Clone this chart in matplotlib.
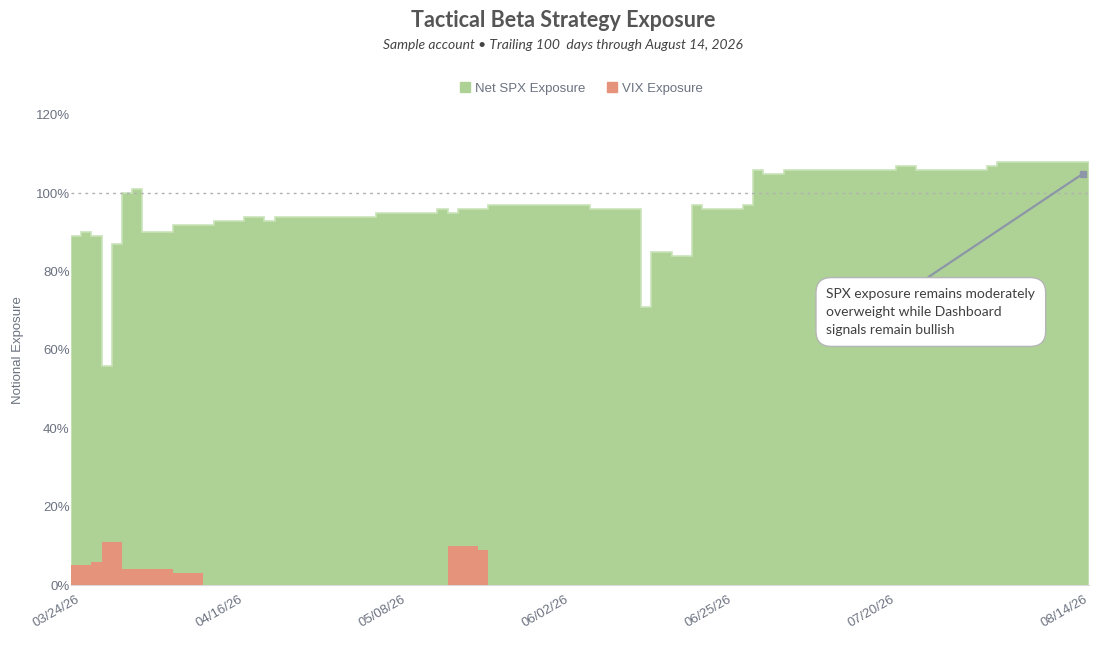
import numpy as np
import pandas as pd
import matplotlib.pyplot as plt
from matplotlib.lines import Line2D

# trading days 03/24/26 - 08/14/26 (NYSE holidays skipped)
holidays = ['2026-04-03', '2026-05-25', '2026-06-19', '2026-07-03']
dates = pd.bdate_range('2026-03-24', '2026-08-14', freq='C', holidays=holidays)

# Net SPX exposure (%), one value per trading day
spx = [89, 90, 89, 56, 87, 100, 101, 90, 90, 90,
       92, 92, 92, 92, 93, 93, 93, 94, 94, 93,
       94, 94, 94, 94, 94, 94, 94, 94, 94, 94,
       95, 95, 95, 95, 95, 95, 96, 95, 96, 96,
       96, 97, 97, 97, 97, 97, 97, 97, 97, 97,
       97, 96, 96, 96, 96, 96, 71, 85, 85, 84,
       84, 97, 96, 96, 96, 96, 97, 106, 105, 105,
       106, 106, 106, 106, 106, 106, 106, 106, 106, 106,
       106, 107, 107, 106, 106, 106, 106, 106, 106, 106,
       107, 108, 108, 108, 108, 108, 108, 108, 108, 108]

# VIX exposure (%)
vix = [5, 5, 6, 11, 11, 4, 4, 4, 4, 4,
       3, 3, 3, 0, 0, 0, 0, 0, 0, 0,
       0, 0, 0, 0, 0, 0, 0, 0, 0, 0,
       0, 0, 0, 0, 0, 0, 0, 10, 10, 10,
       9] + [0] * 59

tick_idx = [0, 16, 32, 48, 64, 80, 99]
tick_labels = [dates[i].strftime('%m/%d/%y') for i in tick_idx]

green = '#aed296'
red = '#e5937a'
gray = '#6b7280'

fig = plt.figure(figsize=(11.09, 6.47), dpi=100)
ax = fig.add_axes([0.064, 0.0958, 0.918, 0.7265])

edges = np.arange(len(spx) + 1)
ax.stairs(spx, edges, fill=True, color=green, zorder=1)
ax.stairs(spx, edges, fill=False, color='#c9e3b8', lw=1.2, zorder=2)
ax.stairs(vix, edges, fill=True, color=red, zorder=3)

ax.axhline(100, color='#b0b0b0', lw=1, ls=(0, (2, 3)), zorder=4)

ax.set_xlim(0, len(spx))
ax.set_ylim(0, 120)
ax.set_yticks(range(0, 121, 20))
ax.set_yticklabels([f'{v}%' for v in range(0, 121, 20)])
ax.set_xticks([i + 0.5 for i in tick_idx])
ax.set_xticklabels(tick_labels, rotation=30, ha='right', rotation_mode='anchor')
ax.tick_params(axis='both', length=0, labelsize=9.5, labelcolor=gray,
               labelfontfamily='Liberation Sans')
ax.tick_params(axis='x', pad=6)
ax.tick_params(axis='y', pad=1)
for s in ['top', 'right', 'left']:
    ax.spines[s].set_visible(False)
ax.spines['bottom'].set_color('#d9d9d9')

ax.set_ylabel('Notional Exposure', fontsize=9.5, color=gray, family='Liberation Sans')
ax.yaxis.set_label_coords(-0.046, 0.5)

# annotation
ax.annotate('SPX exposure remains moderately\noverweight while Dashboard\nsignals remain bullish',
            xy=(99.4, 105), xytext=(74.2, 69.7), textcoords='data',
            ha='left', va='center', fontsize=10, color='#404040', family='Lato',
            linespacing=1.6,
            bbox=dict(boxstyle='round,pad=0.75,rounding_size=1.1', fc='white',
                      ec='#b5b5b5', lw=1),
            arrowprops=dict(arrowstyle='-', color='#8d96a8', lw=1.6,
                            relpos=(0.41, 1.0), shrinkA=0, shrinkB=0),
            zorder=6)
ax.plot([99.4], [105], marker='s', ms=5, color='#8d96a8', zorder=7)

# titles
fig.text(0.508, 0.968, 'Tactical Beta Strategy Exposure', ha='center', va='center',
         fontsize=15.5, fontweight='bold', color='#555555', family='Lato')
fig.text(0.508, 0.931, 'Sample account \u2022 Trailing 100  days through August 14, 2026',
         ha='center', va='center', fontsize=10, style='italic', color='#444444',
         family='Lato')

handles = [Line2D([], [], marker='s', ls='', ms=7.5, color=green),
           Line2D([], [], marker='s', ls='', ms=7.5, color=red)]
leg = fig.legend(handles, ['Net SPX Exposure', 'VIX Exposure'], loc='center',
                 bbox_to_anchor=(0.523, 0.8625), ncol=2, frameon=False,
                 handletextpad=0.2, columnspacing=1.4, handlelength=1.2,
                 prop={'family': 'Liberation Sans', 'size': 9.5})
for t in leg.get_texts():
    t.set_color(gray)

fig.savefig('out.png', dpi=100)
